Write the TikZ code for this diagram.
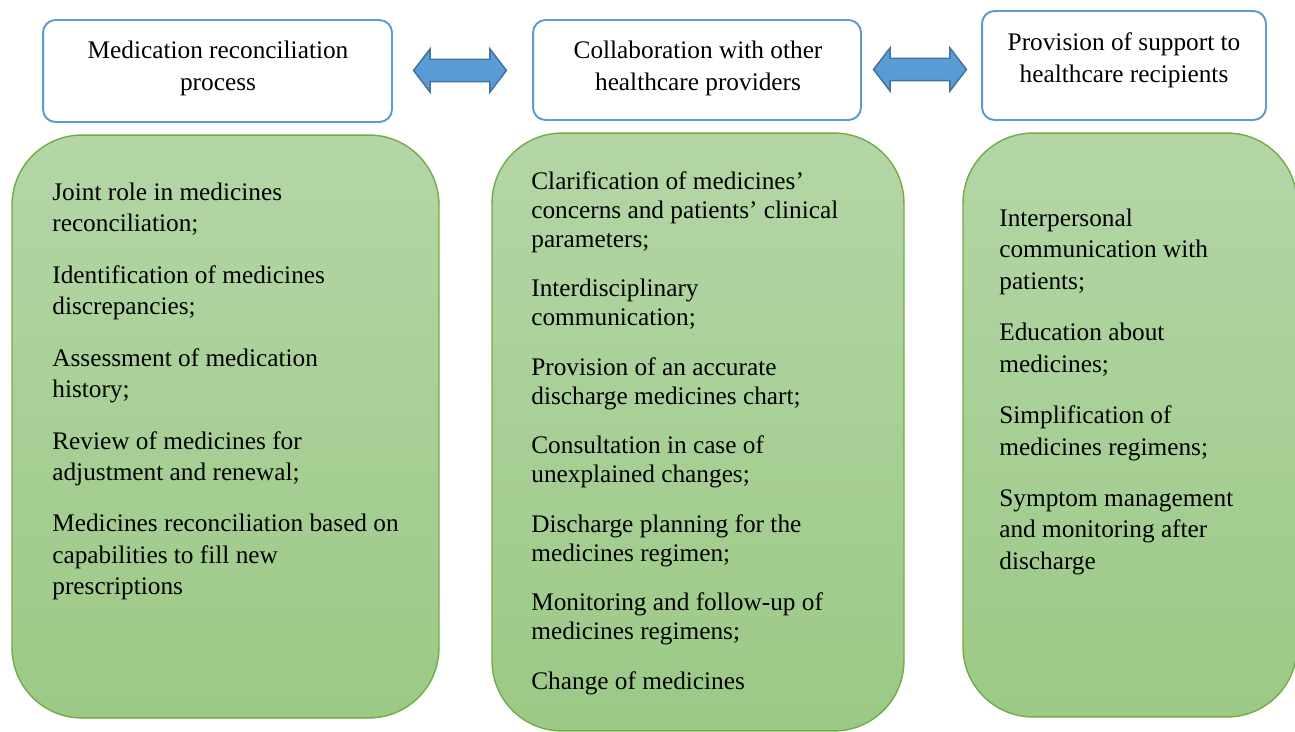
\documentclass[tikz,border=0pt]{standalone}
\usepackage{fontspec}
\setmainfont{Liberation Serif}
\usepackage{tikz}
\usetikzlibrary{calc}
\usetikzlibrary{shapes.arrows}

\definecolor{boxblue}{HTML}{5B9BD5}
\definecolor{arrowedge}{HTML}{41719C}
\definecolor{greenedge}{HTML}{70AD47}
\definecolor{greentop}{HTML}{B4D6A6}
\definecolor{greenbottom}{HTML}{9CC986}

\tikzset{
  topbox/.style={draw=boxblue, line width=1.1pt, fill=white, rounded corners=0.25cm, inner sep=0},
  toptext/.style={align=center, inner sep=0, font=\fontsize{14.4}{18}\selectfont},
  greenbox/.style={draw=greenedge, line width=0.8pt, top color=greentop, bottom color=greenbottom, rounded corners=1.4cm, inner sep=0},
  itemtext/.style={align=left, anchor=north west, inner sep=0, font=\fontsize{14.4}{17.9}\selectfont},
  linkarrow/.style={double arrow, draw=arrowedge, fill=boxblue, line width=0.8pt, inner xsep=0, inner ysep=0.21cm,
    double arrow head extend=0.21cm, double arrow tip angle=105, minimum height=1.86cm}
}

\begin{document}
\begin{tikzpicture}[x=0.02cm, y=-0.02cm]
\useasboundingbox (0,0) rectangle (1295,732);

\node[topbox, minimum width=6.98cm, minimum height=2.04cm] (MR) at (217.5,71) {};
\node[topbox, minimum width=6.56cm, minimum height=2.0cm] (CW) at (697,70) {};
\node[topbox, minimum width=5.68cm, minimum height=2.18cm] (PS) at (1124,65.5) {};
\node[toptext] (MRtext) at (218,68.5) {Medication reconciliation\\process};
\node[toptext] (CWtext) at (698,68.5) {Collaboration with other\\healthcare providers};
\node[toptext] (PStext) at (1124,60) {Provision of support to\\healthcare recipients};

\node[linkarrow, xshift=-0.05cm] (A1) at ($(MR.east)!0.5!(CW.west)$) {};
\node[linkarrow, xshift=-0.03cm, yshift=-0.035cm] (A2) at ($(CW.east)!0.5!(PS.west)$) {};

\node[greenbox, minimum width=8.54cm, minimum height=11.66cm] (MRbox) at (225.5,426.5) {};
\node[greenbox, minimum width=8.24cm, minimum height=11.96cm] (CWbox) at (698,432) {};
\node[greenbox, minimum width=6.68cm, minimum height=11.68cm] (PSbox) at (1130,425) {};

\node[itemtext] (MRlist) at (52,182.5) {Joint role in medicines\\reconciliation;\\[0.4cm]
Identification of medicines\\discrepancies;\\[0.4cm]
Assessment of medication\\history;\\[0.4cm]
Review of medicines for\\adjustment and renewal;\\[0.4cm]
Medicines reconciliation based on\\capabilities to fill new\\prescriptions};

\node[itemtext, font=\fontsize{14.4}{16.5}\selectfont] (CWlist) at (531,171) {Clarification of medicines'\\concerns and patients' clinical\\parameters;\\[0.41cm]
Interdisciplinary\\communication;\\[0.41cm]
Provision of an accurate\\discharge medicines chart;\\[0.41cm]
Consultation in case of\\unexplained changes;\\[0.41cm]
Discharge planning for the\\medicines regimen;\\[0.41cm]
Monitoring and follow-up of\\medicines regimens;\\[0.41cm]
Change of medicines};

\node[itemtext] (PSlist) at (999,208.5) {Interpersonal\\communication with\\patients;\\[0.4cm]
Education about\\medicines;\\[0.4cm]
Simplification of\\medicines regimens;\\[0.4cm]
Symptom management\\and monitoring after\\discharge};

\end{tikzpicture}
\end{document}
